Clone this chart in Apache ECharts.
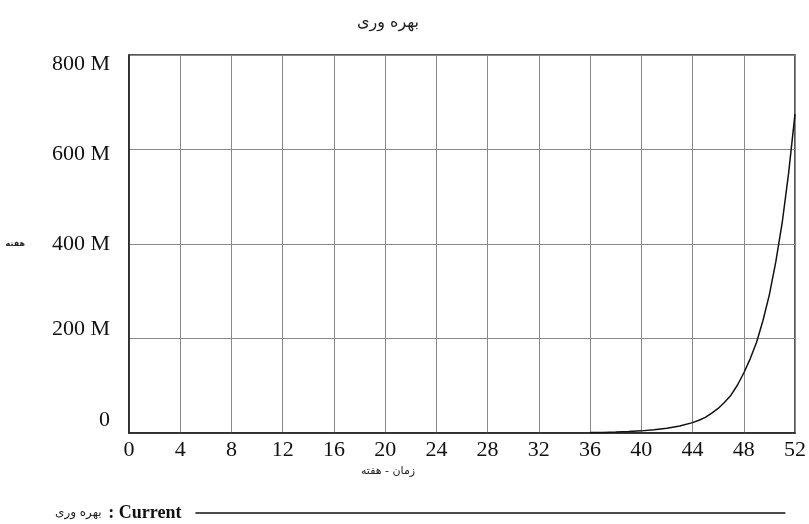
<!DOCTYPE html>
<html>
<head>
<meta charset="utf-8">
<script src="https://cdn.jsdelivr.net/npm/echarts@6/dist/echarts.min.js"></script>
<style>html,body{margin:0;padding:0;background:#fff}#c{width:809px;height:524px}</style>
</head>
<body>
<div id="c"></div>
<script>
// week values and productivity (in millions)
var weeks = [36, 37, 38, 39, 40, 41, 42, 43, 44, 44.5, 45, 45.5, 46, 46.5, 47, 47.5, 48, 48.5, 49, 49.5, 50, 50.5, 51, 51.5, 52];
var values = [0.9, 1.3, 2, 3, 4.5, 7, 10, 15, 22, 27, 33, 42, 52, 65, 80, 101, 127, 157, 192, 238, 293, 362, 445, 550, 675];
var xTicks = [0, 4, 8, 12, 16, 20, 24, 28, 32, 36, 40, 44, 48, 52];
var yTicks = [0, 200, 400, 600, 800];
var titleText = 'بهره وری';
var xName = 'زمان - هفته';
var yName = 'هفته';
var seriesName = 'بهره وری';
var runName = ': Current';

var data = weeks.map(function (w, i) { return [w, values[i]]; });
var chart = echarts.init(document.getElementById('c'));
var serif = '"Liberation Serif","Times New Roman",serif';
var arab = '"DejaVu Sans",sans-serif';
chart.setOption({
  animation: false,
  backgroundColor: '#fff',
  title: {
    text: titleText, left: 383, top: 10, textAlign: 'center',
    textStyle: { fontFamily: arab, fontSize: 16, fontWeight: 'normal', color: '#222' }
  },
  legend: {
    left: 50, top: 499, align: 'right', icon: 'rect', itemWidth: 590, itemHeight: 1.5, itemGap: 0,
    itemStyle: { color: '#111' },
    data: [seriesName],
    formatter: function (n) { return '{ar|' + n + '}  {en|' + runName + '}{sp| }'; },
    textStyle: {
      rich: {
        ar: { fontFamily: arab, fontSize: 12, color: '#222' },
        en: { fontFamily: serif, fontSize: 18, fontWeight: 'bold', color: '#111' },
        sp: { fontFamily: serif, fontSize: 18, width: 9 }
      }
    }
  },
  grid: { left: 129, right: 11, top: 55, bottom: 91, show: true, borderColor: '#222', borderWidth: 1.5 },
  xAxis: {
    type: 'value', min: 0, max: 52, interval: 4,
    name: xName, nameLocation: 'middle', nameGap: 28,
    nameTextStyle: { fontFamily: arab, fontSize: 11, color: '#222', padding: [0, 148, 0, 0] },
    axisLine: { show: true, lineStyle: { color: '#222', width: 1.5 } },
    axisTick: { show: false },
    axisLabel: { fontFamily: serif, fontSize: 22, color: '#111', margin: 6,
      formatter: function (v) { return xTicks.indexOf(v) >= 0 ? String(v) : ''; } },
    splitLine: { show: true, lineStyle: { color: '#888', width: 1 } }
  },
  yAxis: {
    type: 'value', min: 0, max: 800, interval: 200,
    name: yName, nameLocation: 'middle', nameRotate: 0, nameGap: 104,
    nameTextStyle: { fontFamily: arab, fontSize: 8, fontWeight: 'bold', color: '#222' },
    axisLine: { show: true, lineStyle: { color: '#222', width: 1.5 } },
    axisTick: { show: false },
    axisLabel: {
      margin: 19,
      formatter: function (v) {
        var t = v === 0 ? '0' : v + ' M';
        return '{s' + v + '|' + t + '}';
      },
      rich: {
        s800: { fontFamily: serif, fontSize: 22, color: '#111', padding: [18, 0, 0, 0] },
        s600: { fontFamily: serif, fontSize: 22, color: '#111', padding: [10, 0, 0, 0] },
        s400: { fontFamily: serif, fontSize: 22, color: '#111' },
        s200: { fontFamily: serif, fontSize: 22, color: '#111', padding: [0, 0, 18, 0] },
        s0: { fontFamily: serif, fontSize: 22, color: '#111', padding: [0, 0, 26, 0] }
      }
    },
    splitLine: { show: true, lineStyle: { color: '#888', width: 1 } }
  },
  series: [{
    name: seriesName, type: 'line', data: data, symbol: 'none', smooth: false,
    lineStyle: { color: '#111', width: 1.5 }, itemStyle: { color: '#111' }
  }]
});
</script>
</body>
</html>
